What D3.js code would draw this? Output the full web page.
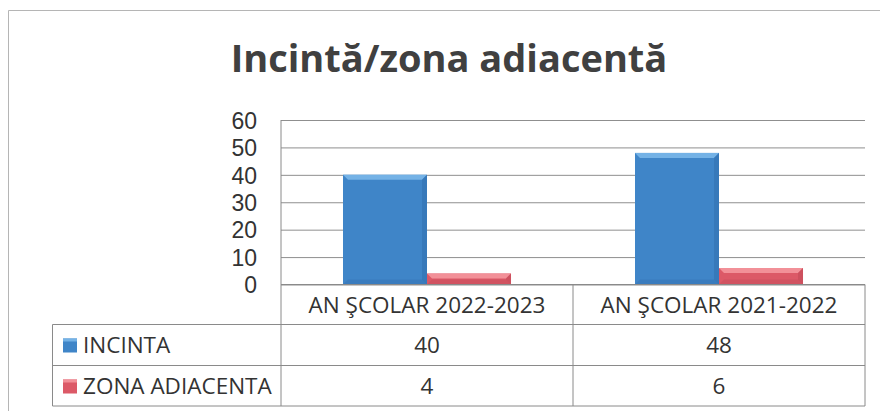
<!DOCTYPE html>
<html>
<head>
<meta charset="utf-8">
<script src="https://cdn.jsdelivr.net/npm/d3@7"></script>
<style>
  html, body { margin: 0; padding: 0; background: #fff; }
  svg { display: block; }
  text { font-family: "Open Sans", "Noto Sans", sans-serif; }
</style>
</head>
<body>
<svg id="chart" width="880" height="411"></svg>
<script>
// ---- data ----
const title = "Incintă/zona adiacentă";
const categories = ["AN ŞCOLAR 2022-2023", "AN ŞCOLAR 2021-2022"];
const seriesNames = ["INCINTA", "ZONA ADIACENTA"];
const incintaValues = [40, 48];
const zonaValues = [4, 6];
const yTicks = [0, 10, 20, 30, 40, 50, 60];

const seriesValues = [incintaValues, zonaValues];
const colors = ["#3f85c8", "#dc5967"];
const lightColors = ["#74b2e6", "#f29098"];
const darkColors = ["#3574b3", "#c64d5b"];

const svg = d3.select("#chart");

// outer frame (scan border)
svg.append("path")
  .attr("d", "M8.5,411 L8.5,10.5 L880,10.5")
  .attr("fill", "none").attr("stroke", "#b5b5b5").attr("stroke-width", 1);

// title
svg.append("text")
  .attr("x", 449).attr("y", 72)
  .attr("text-anchor", "middle")
  .attr("font-size", 38).attr("font-weight", "bold")
  .attr("fill", "#404040")
  .text(title);

// scales
const plotLeft = 281, plotRight = 865, plotTop = 120, plotBottom = 284.5;
const x = d3.scaleBand().domain(categories).range([plotLeft, plotRight]).paddingInner(0).paddingOuter(0);
const xSub = d3.scaleBand().domain(seriesNames).range([0, x.bandwidth()]).paddingInner(0).paddingOuter(0.738);
const y = d3.scaleLinear().domain([0, 60]).range([plotBottom, plotTop]);

// gridlines
const grid = svg.append("g").attr("transform", `translate(${plotLeft},0)`)
  .call(d3.axisLeft(y).tickValues(yTicks).tickSize(-(plotRight - plotLeft)).tickFormat(""));
grid.select(".domain").remove();
grid.selectAll(".tick line").attr("stroke", "#8f8f8f").attr("stroke-width", 1);

// y axis labels
const yAxis = svg.append("g").attr("transform", `translate(${plotLeft},0)`)
  .call(d3.axisLeft(y).tickValues(yTicks).tickSize(0).tickPadding(24).tickFormat(d3.format("d")));
yAxis.select(".domain").remove();
yAxis.selectAll(".tick text")
  .style("font-family", "'Liberation Sans', Arial, sans-serif")
  .style("font-size", "23px")
  .attr("fill", "#333")
  .attr("dy", "0.36em");

// bars
const barData = [];
seriesNames.forEach((s, si) => {
  categories.forEach((c, ci) => {
    barData.push({ s, si, c, v: seriesValues[si][ci] });
  });
});
const bars = svg.append("g").selectAll("g").data(barData).join("g");
bars.each(function(d) {
  const g = d3.select(this);
  const x0 = x(d.c) + xSub(d.s), x1 = x0 + xSub.bandwidth();
  const y0 = y(d.v), y1 = y(0);
  const b = Math.min(5, (y1 - y0) / 2);
  g.append("rect").attr("x", x0).attr("y", y0).attr("width", x1 - x0).attr("height", y1 - y0)
    .attr("fill", colors[d.si]);
  // bevels
  g.append("polygon")
    .attr("points", [[x0, y0], [x1, y0], [x1 - b, y0 + b], [x0 + b, y0 + b]].map(p => p.join(",")).join(" "))
    .attr("fill", lightColors[d.si]);
  g.append("polygon")
    .attr("points", [[x1, y0], [x1 - b, y0 + b], [x1 - b, y1 - b], [x1, y1]].map(p => p.join(",")).join(" "))
    .attr("fill", darkColors[d.si]).attr("opacity", 0.7);
  g.append("polygon")
    .attr("points", [[x0, y1], [x0 + b, y1 - b], [x1 - b, y1 - b], [x1, y1]].map(p => p.join(",")).join(" "))
    .attr("fill", darkColors[d.si]).attr("opacity", 0.5);
});

// data table
const tableLeft = 52.5;
const rowLines = [plotBottom, 324.5, 365.5, 406];
const lineColor = "#8a8a8a";
const t = svg.append("g").attr("stroke", lineColor).attr("stroke-width", 1).attr("fill", "none");
// left axis line
t.append("line").attr("x1", plotLeft).attr("x2", plotLeft).attr("y1", plotTop).attr("y2", rowLines[3]);
// horizontal lines
t.append("line").attr("x1", plotLeft).attr("x2", plotRight).attr("y1", rowLines[0]).attr("y2", rowLines[0]);
[1, 2, 3].forEach(i => {
  t.append("line").attr("x1", tableLeft).attr("x2", plotRight).attr("y1", rowLines[i]).attr("y2", rowLines[i]);
});
// vertical lines
t.append("line").attr("x1", tableLeft).attr("x2", tableLeft).attr("y1", rowLines[1]).attr("y2", rowLines[3]);
categories.forEach(c => {
  const xe = x(c) + x.bandwidth();
  t.append("line").attr("x1", xe).attr("x2", xe).attr("y1", rowLines[0]).attr("y2", rowLines[3]);
});

// header labels
svg.append("g").selectAll("text").data(categories).join("text")
  .attr("x", d => x(d) + x.bandwidth() / 2)
  .attr("y", 312.5)
  .attr("text-anchor", "middle")
  .attr("font-size", 22.5).attr("fill", "#333")
  .text(d => d);

// series rows
seriesNames.forEach((s, si) => {
  const yb = rowLines[si + 1];
  const baseline = yb + 28;
  svg.append("rect").attr("x", 63).attr("y", baseline - 14).attr("width", 14).attr("height", 14)
    .attr("fill", colors[si]);
  svg.append("rect").attr("x", 63).attr("y", baseline - 14).attr("width", 14).attr("height", 3)
    .attr("fill", lightColors[si]);
  svg.append("text").attr("x", 83).attr("y", baseline)
    .attr("font-size", 22.5).attr("fill", "#333").text(s);
  svg.append("g").selectAll("text").data(categories).join("text")
    .attr("x", d => x(d) + x.bandwidth() / 2)
    .attr("y", baseline)
    .attr("text-anchor", "middle")
    .attr("font-size", 22.5).attr("fill", "#333")
    .text((d, ci) => seriesValues[si][ci]);
});
</script>
</body>
</html>
